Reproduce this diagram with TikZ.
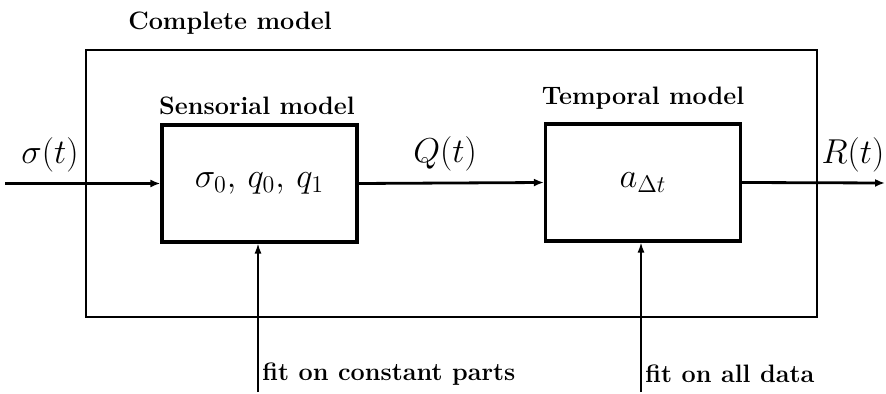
\documentclass[tikz,border=0pt]{standalone}
\usetikzlibrary{arrows.meta}
\begin{document}
\begin{tikzpicture}[x=0.5pt,y=-0.5pt,
  blockbox/.style={draw,line width=1.6pt,minimum width=97.5pt,minimum height=58.5pt,inner sep=0pt,font=\fontsize{16.5}{18}\selectfont},
  outerbox/.style={draw,line width=1.3pt,minimum width=365.5pt,minimum height=133.5pt,inner sep=0pt},
  lbl/.style={font=\bfseries\fontsize{12.6}{14}\selectfont,inner sep=0pt},
  mlbl/.style={font=\fontsize{16.5}{18}\selectfont,inner sep=0pt},
  sig/.style={line width=1.4pt,-{Latex[length=5pt,width=4pt]}},
  fitline/.style={line width=0.7pt,-{Latex[length=5pt,width=3.5pt]}}]
\useasboundingbox (0,0) rectangle (886,394);
\node[outerbox] (outer) at (451.5,183.5) {};
\node[blockbox] (sens) at (259.5,183.5) {$\sigma_0,\,q_0,\,q_1$};
\node[blockbox] (temp) at (643,182.5) {$a_{\Delta t}$};
\node[lbl] (lcomp) at (230,23) {Complete model};
\node[lbl] (lsens) at (257,106) {Sensorial model};
\node[lbl] (ltemp) at (643,98) {Temporal model};
\node[mlbl] (lsig) at (50,155) {$\sigma(t)$};
\node[mlbl] (lq) at (445,154) {$Q(t)$};
\node[mlbl] (lr) at (853,155) {$R(t)$};
\coordinate (in) at (5,183.5);
\coordinate (out) at (885,183);
\coordinate (f1) at (258,392);
\coordinate (f2) at (641,392);
\draw[sig] (in) -- (sens.west);
\draw[sig] (sens.east) -- (temp.west);
\draw[sig] (temp.east) -- (out);
\draw[fitline] (f1) -- (f1 |- sens.south);
\draw[fitline] (f2) -- (f2 |- temp.south);
\node[lbl,anchor=west] (t1) at (262,374) {fit on constant parts};
\node[lbl,anchor=west] (t2) at (645,374) {fit on all data};
\end{tikzpicture}
\end{document}
